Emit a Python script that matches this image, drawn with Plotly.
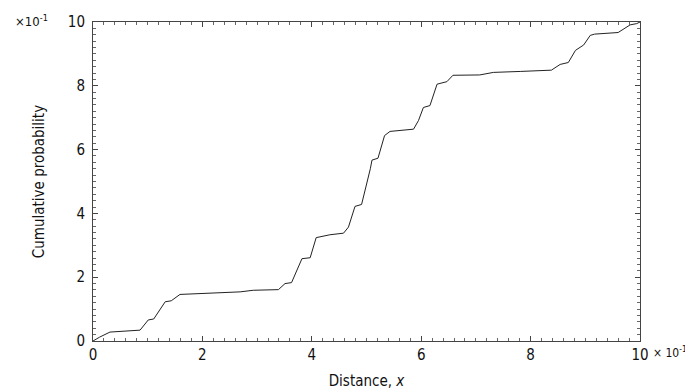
import plotly.graph_objects as go

# Traced empirical cumulative distribution (units of x10^-1)
distance = [0.0, 0.12, 0.31, 0.86, 1.01, 1.11, 1.32, 1.43, 1.59, 2.08, 2.69, 2.93, 3.39,
            3.51, 3.63, 3.82, 3.97, 4.08, 4.33, 4.58, 4.67, 4.79, 4.91, 5.07, 5.10, 5.21,
            5.33, 5.43, 5.86, 5.95, 6.04, 6.16, 6.29, 6.47, 6.58, 7.07, 7.32, 7.81, 8.38,
            8.54, 8.69, 8.82, 8.97, 9.09, 9.17, 9.60, 9.69, 9.82, 9.94, 10.0]
cum_prob = [0.0, 0.12, 0.28, 0.34, 0.66, 0.69, 1.23, 1.26, 1.46, 1.49, 1.54, 1.59, 1.61,
            1.80, 1.83, 2.58, 2.61, 3.24, 3.33, 3.38, 3.57, 4.22, 4.28, 5.40, 5.67, 5.73,
            6.44, 6.57, 6.64, 6.91, 7.32, 7.38, 8.05, 8.13, 8.33, 8.34, 8.42, 8.45, 8.49,
            8.67, 8.73, 9.11, 9.28, 9.58, 9.62, 9.67, 9.77, 9.91, 9.95, 10.0]

x_ticks = [0, 2, 4, 6, 8, 10]
y_ticks = [0, 2, 4, 6, 8, 10]
minor_ticks = [round(i * 0.2, 1) for i in range(51)]

FONT = "DejaVu Sans Condensed, DejaVu Sans, sans-serif"
TXT = "#111111"

fig = go.Figure()
fig.add_trace(go.Scatter(x=distance, y=cum_prob, mode="lines",
                         line=dict(color="#222222", width=1), showlegend=False))

axis_common = dict(
    automargin=False, showgrid=False, zeroline=False, showline=True,
    linecolor="#444444", linewidth=1, mirror="ticks",
    tickmode="array",
    ticks="inside", ticklen=5, tickcolor="#444444", tickwidth=1,
    tickfont=dict(family=FONT, size=15, color=TXT),
    minor=dict(ticks="inside", ticklen=3, tickmode="array", tickvals=minor_ticks,
               tickcolor="#666666", tickwidth=1),
)

fig.update_xaxes(range=[0, 10], tickvals=x_ticks, ticktext=[str(v) for v in x_ticks],
                 title=dict(text="Distance, <i>x</i>", font=dict(family=FONT, size=15, color=TXT),
                            standoff=13),
                 **axis_common)
fig.update_yaxes(range=[0, 10], tickvals=y_ticks, ticktext=[str(v) for v in y_ticks],
                 ticklabelstandoff=4,
                 title=dict(text="Cumulative probability", font=dict(family=FONT, size=15, color=TXT),
                            standoff=19),
                 **axis_common)

fig.add_annotation(text="×10<sup>-1</sup>", xref="paper", yref="paper", x=-0.146, y=1.004,
                   xanchor="left", yanchor="middle", showarrow=False,
                   font=dict(family=FONT, size=13, color=TXT))
fig.add_annotation(text="× 10<sup>-1</sup>", xref="paper", yref="paper", x=1.09, y=-0.034,
                   xanchor="right", yanchor="middle", showarrow=False,
                   font=dict(family=FONT, size=12, color=TXT))

# page body has an 8px margin, so the figure is sized to fit the 693x390 window
fig.update_layout(width=685, height=382, margin=dict(l=85, r=53, t=14, b=49),
                  paper_bgcolor="white", plot_bgcolor="white")

fig.write_html("out.html")
